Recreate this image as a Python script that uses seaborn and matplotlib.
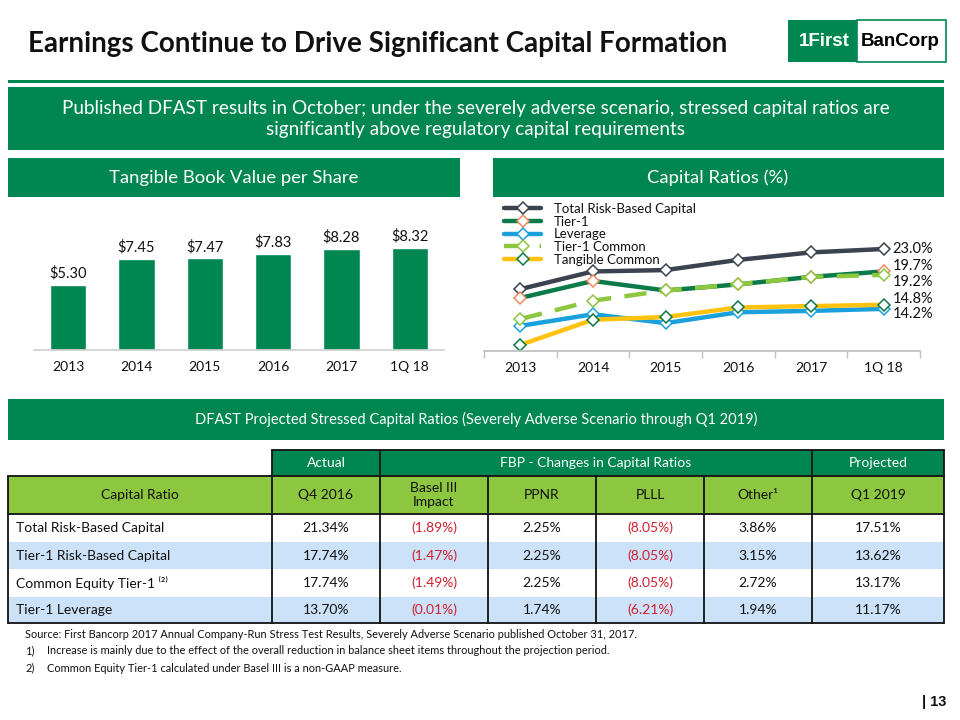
import numpy as np
import pandas as pd
import matplotlib
matplotlib.use("Agg")
import matplotlib.pyplot as plt
from matplotlib.patches import Rectangle
import seaborn as sns

# ---------------- data ----------------
periods = ["2013", "2014", "2015", "2016", "2017", "1Q 18"]
tbv_per_share = [5.30, 7.45, 7.47, 7.83, 8.28, 8.32]

total_rbc = [17.1, 19.7, 19.9, 21.4, 22.5, 23.0]
tier1 = [15.8, 18.3, 16.9, 17.8, 18.9, 19.7]
leverage = [11.7, 13.4, 12.1, 13.7, 13.9, 14.2]
tier1_common = [12.7, 15.4, 16.9, 17.8, 18.9, 19.2]
tangible_common = [8.9, 12.6, 13.0, 14.4, 14.6, 14.8]

table_rows = ["Total Risk-Based Capital", "Tier-1 Risk-Based Capital",
              "Common Equity Tier-1 \u207d\u00b2\u207e", "Tier-1 Leverage"]
q4_2016 = [21.34, 17.74, 17.74, 13.70]
basel_iii = [-1.89, -1.47, -1.49, -0.01]
ppnr = [2.25, 2.25, 2.25, 1.74]
plll = [-8.05, -8.05, -8.05, -6.21]
other = [3.86, 3.15, 2.72, 1.94]
q1_2019 = [17.51, 13.62, 13.17, 11.17]

# ---------------- style ----------------
sns.set_theme(style="white")
plt.rcParams['font.family'] = ['Lato', 'DejaVu Sans']
GREEN = "#008751"
LGREEN = "#8DC63F"
LBLUE = "#CCE2F8"
RED = "#D21F2F"
TXT = "#111111"

W, H = 960, 720
fig = plt.figure(figsize=(9.6, 7.2), dpi=100)


def px_rect(x0, y0, x1, y1):
    return [x0 / W, 1 - y1 / H, (x1 - x0) / W, (y1 - y0) / H]


bg = fig.add_axes([0, 0, 1, 1])
bg.set_xlim(0, W)
bg.set_ylim(H, 0)
bg.axis("off")
bg.set_zorder(0)


def box(x0, y0, x1, y1, color, **kw):
    bg.add_patch(Rectangle((x0, y0), x1 - x0, y1 - y0, facecolor=color,
                           edgecolor=kw.pop("ec", "none"), lw=kw.pop("lw", 0), **kw))


# title
bg.text(28, 52, "Earnings Continue to Drive Significant Capital Formation",
        fontsize=20, fontweight="bold", color=TXT, va="baseline", ha="left")

# logo
box(788, 20, 857, 62, GREEN)
box(857, 20, 946, 62, "white", ec=GREEN, lw=1.2)
bg.text(824, 42, "1First", fontsize=13.5, fontweight="bold", color="white",
        ha="center", va="center", family=["Liberation Sans", "DejaVu Sans"])
bg.text(900, 42, "BanCorp", fontsize=13.5, fontweight="bold", color="black",
        ha="center", va="center", family=["Liberation Sans", "DejaVu Sans"])

# banners
box(8, 80, 944, 83, GREEN)
box(8, 87, 944, 150, GREEN)
bg.text(476, 119, "Published DFAST results in October; under the severely adverse scenario, stressed capital ratios are\nsignificantly above regulatory capital requirements",
        fontsize=13.6, color="white", ha="center", va="center", linespacing=1.35)
box(8, 158, 460, 197, GREEN)
bg.text(234, 178, "Tangible Book Value per Share", fontsize=13.3, color="white", ha="center", va="center")
box(493, 158, 944, 197, GREEN)
bg.text(718, 178, "Capital Ratios (%)", fontsize=13.3, color="white", ha="center", va="center")
box(8, 399, 944, 440, GREEN)
bg.text(476, 419, "DFAST Projected Stressed Capital Ratios (Severely Adverse Scenario through Q1 2019)",
        fontsize=10.5, color="white", ha="center", va="center")

# ---------------- bar chart ----------------
ax1 = fig.add_axes(px_rect(34, 205, 444, 350))
ax1.set_facecolor("none")
sns.barplot(x=periods, y=tbv_per_share, color=GREEN, saturation=1, width=0.53, ax=ax1)
ax1.set_ylim(0, (350 - 205) / 12.25)
ax1.bar_label(ax1.containers[0], labels=[f"${v:.2f}" for v in tbv_per_share],
              padding=3, fontsize=10.5, color=TXT)
for s in ["top", "right", "left"]:
    ax1.spines[s].set_visible(False)
ax1.spines["bottom"].set_color("#D0D0D0")
ax1.set_yticks([])
ax1.set_xlabel("")
ax1.set_ylabel("")
ax1.tick_params(axis="x", length=0, labelsize=10, labelcolor=TXT, pad=8)

# ---------------- line chart ----------------
ax2 = fig.add_axes(px_rect(484, 198, 920, 351))
ax2.set_facecolor("none")
series = [
    ("Total Risk-Based Capital", total_rbc, "#3B4350", "#3B4350", "-"),
    ("Tier-1", tier1, "#0A7A48", "#EE8A5E", "-"),
    ("Leverage", leverage, "#1AA0DC", "#1AA0DC", "-"),
    ("Tier-1 Common", tier1_common, "#8DC63F", "#8DC63F", (0, (5, 3))),
    ("Tangible Common", tangible_common, "#FFC20E", "#0A7A48", "-"),
]
for name, vals, col, mec, ls in series:
    sns.lineplot(x=periods, y=vals, color=col, lw=3.2, linestyle=ls, marker="D",
                 markersize=6.3, markerfacecolor="white", markeredgecolor=mec,
                 markeredgewidth=1.1, ax=ax2, label=name, sort=False)

ax2.set_ylim(8, 8 + 153 / 6.8)
ax2.set_xlim(-0.5, 5.5)
label_offsets = {"Total Risk-Based Capital": 0, "Tier-1": 3.9, "Leverage": -3.6,
                 "Tier-1 Common": -5.0, "Tangible Common": 4.3}
for name, vals, col, mec, ls in series:
    ax2.annotate(f"{vals[-1]:.1f}%", xy=(len(vals) - 1, vals[-1]),
                 xytext=(6.5, label_offsets[name]), textcoords="offset points",
                 ha="left", va="center", fontsize=10.5, color=TXT)
for s in ["top", "right", "left"]:
    ax2.spines[s].set_visible(False)
ax2.spines["bottom"].set_color("#BFBFBF")
ax2.set_yticks([])
ax2.set_xticks(range(len(periods)))
ax2.set_xticklabels(periods)
ax2.set_xticks(np.arange(-0.5, len(periods), 1.0), minor=True)
ax2.tick_params(axis="x", which="major", length=0, labelsize=10, labelcolor=TXT, pad=8)
ax2.tick_params(axis="x", which="minor", length=5, color="#BFBFBF", bottom=True)
ax2.set_xlabel("")
ax2.set_ylabel("")
leg = ax2.legend(loc="upper left", bbox_to_anchor=(0.04, 0.985), frameon=False,
                 fontsize=9.5, labelspacing=0.05, handlelength=2.8, handletextpad=1.0,
                 borderaxespad=0, borderpad=0.2)
for t in leg.get_texts():
    t.set_color(TXT)

# ---------------- table ----------------
cols = [8, 272, 380, 488, 596, 704, 812, 944]
r1 = (450, 476)
r2 = (476, 514)
data_y = [514, 542, 569, 597, 623]

box(272, r1[0], 944, r1[1], GREEN)
box(8, r2[0], 944, r2[1], LGREEN)
for i in range(4):
    box(8, data_y[i], 944, data_y[i + 1], "white" if i % 2 == 0 else LBLUE)

hdr1 = [("Actual", 272, 380), ("FBP - Changes in Capital Ratios", 380, 812), ("Projected", 812, 944)]
for txt, a, b in hdr1:
    bg.text((a + b) / 2, sum(r1) / 2, txt, color="white", fontsize=10, ha="center", va="center")
hdr2 = ["Capital Ratio", "Q4 2016", "Basel III\nImpact", "PPNR", "PLLL", "Other\u00b9", "Q1 2019"]
for j, txt in enumerate(hdr2):
    bg.text((cols[j] + cols[j + 1]) / 2, sum(r2) / 2, txt, color=TXT, fontsize=10,
            ha="center", va="center", linespacing=1.15)


def fmt(v):
    return (f"({abs(v):.2f}%)", RED) if v < 0 else (f"{v:.2f}%", TXT)


columns = [q4_2016, basel_iii, ppnr, plll, other, q1_2019]
for i, name in enumerate(table_rows):
    yc = (data_y[i] + data_y[i + 1]) / 2
    bg.text(16, yc, name, color=TXT, fontsize=10, ha="left", va="center")
    for j, colvals in enumerate(columns):
        s, c = fmt(colvals[i])
        bg.text((cols[j + 1] + cols[j + 2]) / 2, yc, s, color=c, fontsize=10,
                ha="center", va="center")

LW = 1.3
LC = "#111111"
bg.plot([272, 944], [r1[0], r1[0]], color=LC, lw=LW)
for x in [272, 380, 812, 944]:
    bg.plot([x, x], [r1[0], r1[1]], color=LC, lw=LW)
for y in [r2[0], r2[1], data_y[-1]]:
    bg.plot([8, 944], [y, y], color=LC, lw=LW)
for x in cols:
    bg.plot([x, x], [r2[0], data_y[-1]], color=LC, lw=LW)

# footnotes
fn_family = ["Lato", "DejaVu Sans"]
FS = 7.9
bg.text(25, 634, "Source: First Bancorp 2017 Annual Company-Run Stress Test Results, Severely Adverse Scenario published October 31, 2017.",
        fontsize=FS, color=TXT, ha="left", va="center", family=fn_family)
bg.text(25, 651, "1)", fontsize=FS, color=TXT, ha="left", va="center", family=fn_family)
bg.text(47, 651, "Increase is mainly due to the effect of the overall reduction in balance sheet items throughout the projection period.",
        fontsize=FS, color=TXT, ha="left", va="center", family=fn_family)
bg.text(25, 668, "2)", fontsize=FS, color=TXT, ha="left", va="center", family=fn_family)
bg.text(47, 668, "Common Equity Tier-1 calculated under Basel III is a non-GAAP measure.",
        fontsize=FS, color=TXT, ha="left", va="center", family=fn_family)

bg.text(946, 702, "| 13", fontsize=10.5, fontweight="bold", color=TXT, ha="right", va="center",
        family=["Liberation Sans", "DejaVu Sans"])

fig.savefig("out.png", dpi=100)
